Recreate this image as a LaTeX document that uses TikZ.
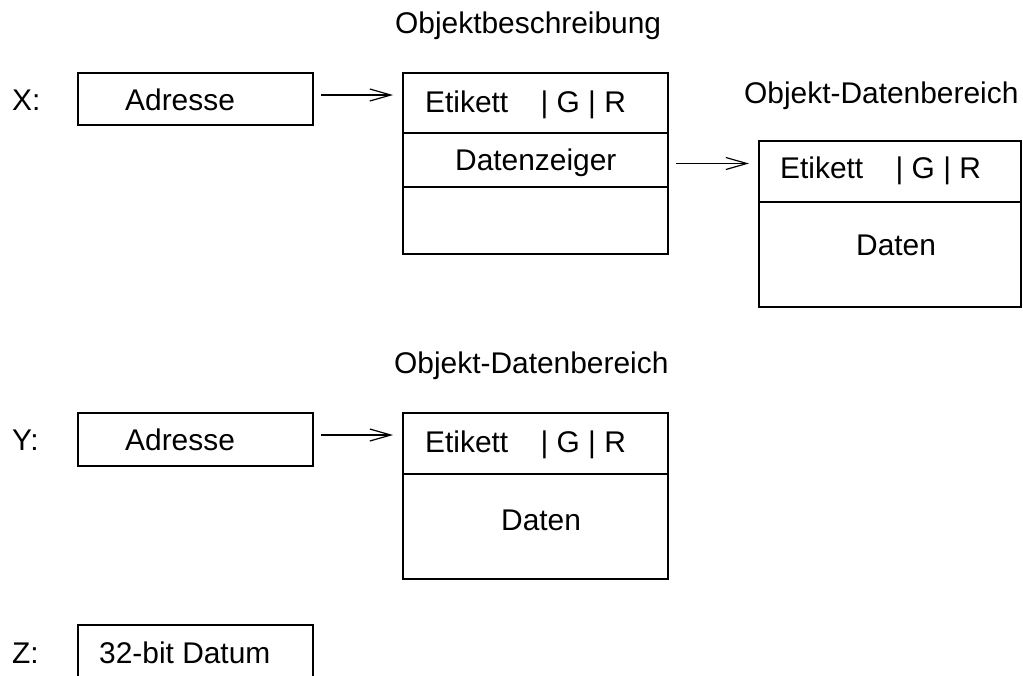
\documentclass[tikz,border=0pt]{standalone}
\usepackage{fontspec}
\setmainfont{Liberation Sans}
\usetikzlibrary{arrows.meta}
\begin{document}
\begin{tikzpicture}[x=1pt,y=-1pt,
  box/.style={draw, line width=1.3pt, inner sep=0pt, outer sep=0pt, anchor=north west},
  rule/.style={line width=1.3pt},
  txt/.style={inner sep=0pt, anchor=base west, font=\fontsize{29.9}{36}\selectfont},
  arr/.style={line width=1.2pt, -{Straight Barb[length=21pt,width=12pt,line width=1.2pt]}}]
\clip (0,0) rectangle (1023,675);

% --- X: address pointing to an object description ---
\node[txt] (xlab) at (12,110) {X:};
\node[box, minimum width=235pt, minimum height=52pt] (xaddr) at (78,73) {};
\node[txt] (xaddrtxt) at (125,110) {Adresse};

\node[txt] (objtitle) at (395,33.5) {Objektbeschreibung};
\node[box, minimum width=265pt, minimum height=181pt] (obj) at (403,73) {};
\draw[rule] (obj.west |- 0,133) -- (obj.east |- 0,133);
\draw[rule] (obj.west |- 0,187) -- (obj.east |- 0,187);
\node[txt] (objtag) at (425,112) {Etikett\hspace{24pt} | G | R};
\node[txt] (objptr) at (455,170) {Datenzeiger};

\node[txt] (dattitle) at (744,103) {Objekt-Datenbereich};
\node[box, minimum width=262pt, minimum height=166pt] (dat) at (759,141) {};
\draw[rule] (dat.west |- 0,202) -- (dat.east |- 0,202);
\node[txt] (dattag) at (780,178) {Etikett\hspace{24pt} | G | R};
\node[txt] (datdata) at (856,255) {Daten};

\draw[arr, shorten <=8pt, shorten >=10pt] ([yshift=4pt]xaddr.east) -- ([yshift=4pt]xaddr.east -| obj.west);
\draw[arr, shorten <=8pt, shorten >=10pt] (obj.east) -- (obj.east -| dat.west);

% --- Y: address pointing directly to a data area ---
\node[txt] (ylab) at (12,450) {Y:};
\node[box, minimum width=235pt, minimum height=53pt] (yaddr) at (78,413) {};
\node[txt] (yaddrtxt) at (125,450) {Adresse};

\node[txt] (ydattitle) at (394,373) {Objekt-Datenbereich};
\node[box, minimum width=265pt, minimum height=166pt] (ydat) at (403,413) {};
\draw[rule] (ydat.west |- 0,474) -- (ydat.east |- 0,474);
\node[txt] (ydattag) at (425,452) {Etikett\hspace{24pt} | G | R};
\node[txt] (ydatdata) at (501,530) {Daten};

\draw[arr, shorten <=8pt, shorten >=10pt] ([yshift=4.5pt]yaddr.east) -- ([yshift=4.5pt]yaddr.east -| ydat.west);

% --- Z: immediate 32-bit value ---
\node[txt] (zlab) at (12,663) {Z:};
\node[box, minimum width=235pt, minimum height=70pt] (zval) at (78,625) {};
\node[txt] (zvaltxt) at (99,663) {32-bit Datum};
\end{tikzpicture}
\end{document}
